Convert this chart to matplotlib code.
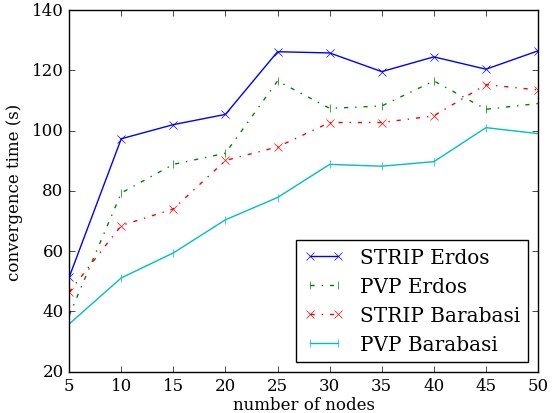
import matplotlib
matplotlib.use("Agg")
import matplotlib.pyplot as plt

plt.style.use('classic')
plt.rcParams['font.family'] = 'serif'
plt.rcParams['font.serif'] = ['DejaVu Serif']

nodes = [5, 10, 15, 20, 25, 30, 35, 40, 45, 50]
strip_erdos = [51.3, 97.3, 102.0, 105.4, 126.2, 125.8, 119.6, 124.5, 120.4, 126.5]
pvp_erdos = [38.6, 79.3, 88.8, 92.5, 116.5, 107.4, 108.2, 116.5, 107.1, 109.0]
strip_barabasi = [46.4, 68.5, 74.0, 90.1, 94.6, 102.7, 102.7, 104.9, 115.3, 113.5]
pvp_barabasi = [35.8, 51.1, 59.4, 70.4, 77.8, 88.8, 88.2, 89.7, 101.0, 99.0]

fig = plt.figure(figsize=(5.53, 4.14), dpi=100)
fig.subplots_adjust(left=0.125, right=0.973, top=0.973, bottom=0.10)
ax = fig.add_subplot(111)

ax.plot(nodes, strip_erdos, 'b-x', label="STRIP Erdos")
ax.plot(nodes, pvp_erdos, 'g-.|', label="PVP Erdos")
ax.plot(nodes, strip_barabasi, 'r-.x', label="STRIP Barabasi")
ax.plot(nodes, pvp_barabasi, 'c-|', label="PVP Barabasi")

ax.set_xlim(5, 50)
ax.set_ylim(20, 140)
ax.set_xlabel("number of nodes", labelpad=1)
ax.set_ylabel("convergence time (s)", labelpad=6)
ax.legend(loc='lower right', numpoints=2)

fig.savefig("out.png", dpi=100)
